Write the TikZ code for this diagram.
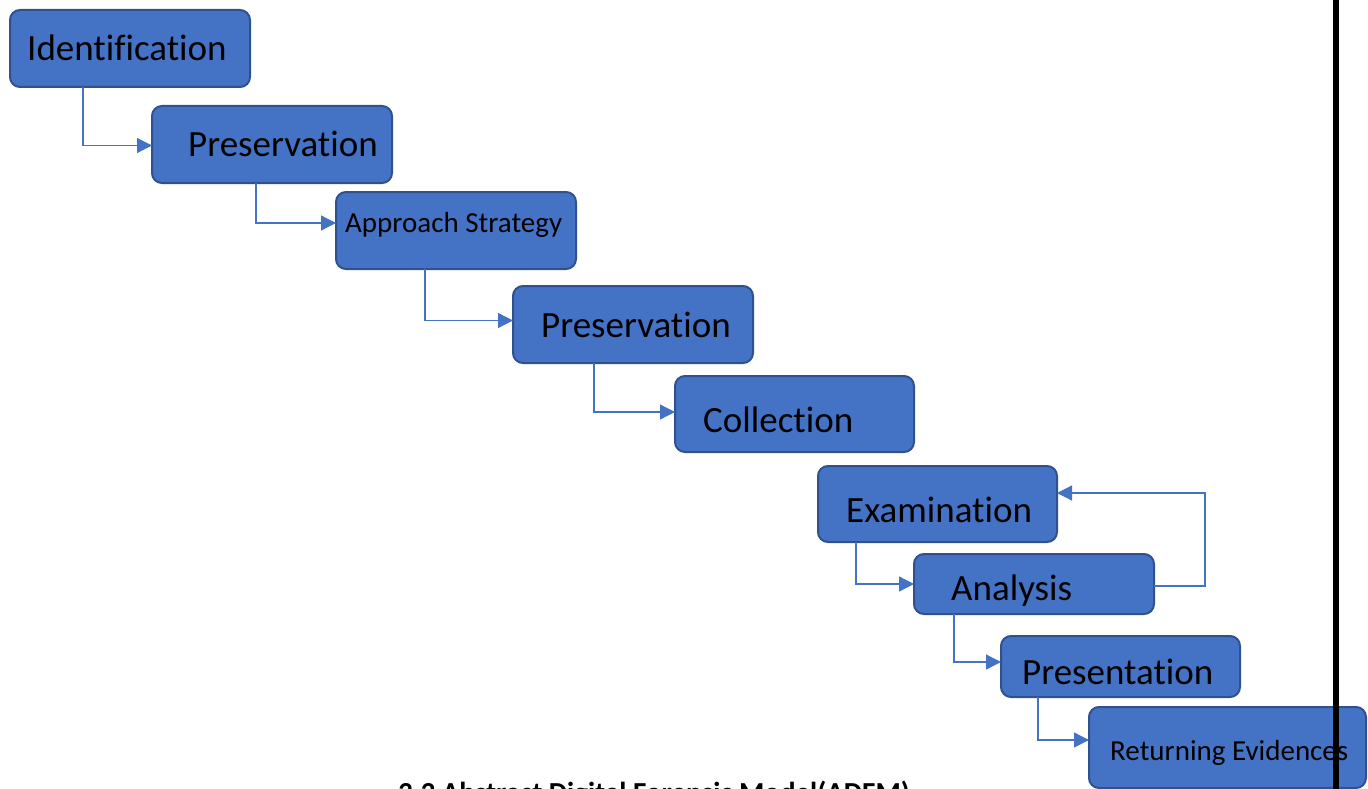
\documentclass[tikz,border=0pt]{standalone}
\usepackage{fontspec}
\setmainfont{Carlito}[Ligatures={NoCommon}]
\usetikzlibrary{arrows.meta}
\definecolor{boxfill}{HTML}{4472C4}
\definecolor{boxline}{HTML}{2F528F}
\definecolor{connc}{HTML}{4472C4}
\tikzset{
  stagebox/.style={draw=boxline, fill=boxfill, line width=2pt, rounded corners=10pt,
    anchor=north west, inner sep=0pt, outer sep=0pt},
  biglbl/.style={anchor=base west, inner sep=0pt, font=\fontsize{37}{40}\selectfont},
  smalllbl/.style={anchor=base west, inner sep=0pt, font=\fontsize{29}{32}\selectfont},
  conn/.style={draw=connc, line width=1.3pt, -{Triangle[length=15pt,width=15pt]}},
}
\begin{document}
\begin{tikzpicture}[x=1pt,y=-1pt]
\useasboundingbox (0,0) rectangle (1368,789);
\begin{scope}
\clip (0,0) rectangle (1368,789);
% boxes
\node[stagebox, minimum width=240pt, minimum height=77pt] (b1) at (10,10) {};
\node[stagebox, minimum width=240pt, minimum height=77pt] (b2) at (152,106) {};
\node[stagebox, minimum width=240pt, minimum height=77pt] (b3) at (336,192) {};
\node[stagebox, minimum width=240pt, minimum height=77pt] (b4) at (513,286) {};
\node[stagebox, minimum width=239pt, minimum height=76pt] (b5) at (675,376) {};
\node[stagebox, minimum width=239pt, minimum height=76pt] (b6) at (818,466) {};
\node[stagebox, minimum width=240pt, minimum height=60pt] (b7) at (914,554) {};
\node[stagebox, minimum width=239pt, minimum height=61pt] (b8) at (1001,636) {};
\node[stagebox, minimum width=277pt, minimum height=81pt] (b9) at (1089,707) {};
% labels
\node[biglbl] (t1) at (27,61) {Identification};
\node[biglbl] (t2) at (188,157) {Preservation};
\node[smalllbl] (t3) at (345,232) {Approach Strategy};
\node[biglbl] (t4) at (541,337) {Preservation};
\node[biglbl] (t5) at (703,432) {Collection};
\node[biglbl] (t6) at (846,522) {Examination};
\node[biglbl] (t7) at (951,600) {Analysis};
\node[biglbl] (t8) at (1022,684) {Presentation};
\node[smalllbl] (t9) at (1110,760) {Returning Evidences};
% connectors
\draw[conn] ([xshift=73pt]b1.south west) |- ([yshift=-1pt]b2.west);
\draw[conn] ([xshift=104pt]b2.south west) |- ([yshift=7.5pt]b3.west);
\draw[conn] ([xshift=89pt]b3.south west) |- ([yshift=4pt]b4.west);
\draw[conn] ([xshift=81pt]b4.south west) |- ([yshift=2pt]b5.west);
\draw[conn] ([xshift=38pt]b6.south west) |- (b7.west);
\coordinate (loopc) at (1205,493);
\draw[conn] ([yshift=-2pt]b7.east) -| (loopc) -- ([yshift=11pt]b6.east);
\draw[conn] ([xshift=40pt]b7.south west) |- ([yshift=4.5pt]b8.west);
\draw[conn] ([xshift=37pt]b8.south west) |- ([yshift=7.5pt]b9.west);
% caption (cut off by the page edge, as in the reference)
\node[anchor=base west, inner sep=0pt, font=\bfseries\fontsize{29}{32}\selectfont] (cap) at (398,802) {3.3 Abstract Digital Forensic Model(ADFM)};
% black vertical rule
\coordinate (rtop) at (1336,0);
\coordinate (rbot) at (1336,789);
\draw[line width=6pt, black] (rtop) -- (rbot);
\end{scope}
\end{tikzpicture}
\end{document}
